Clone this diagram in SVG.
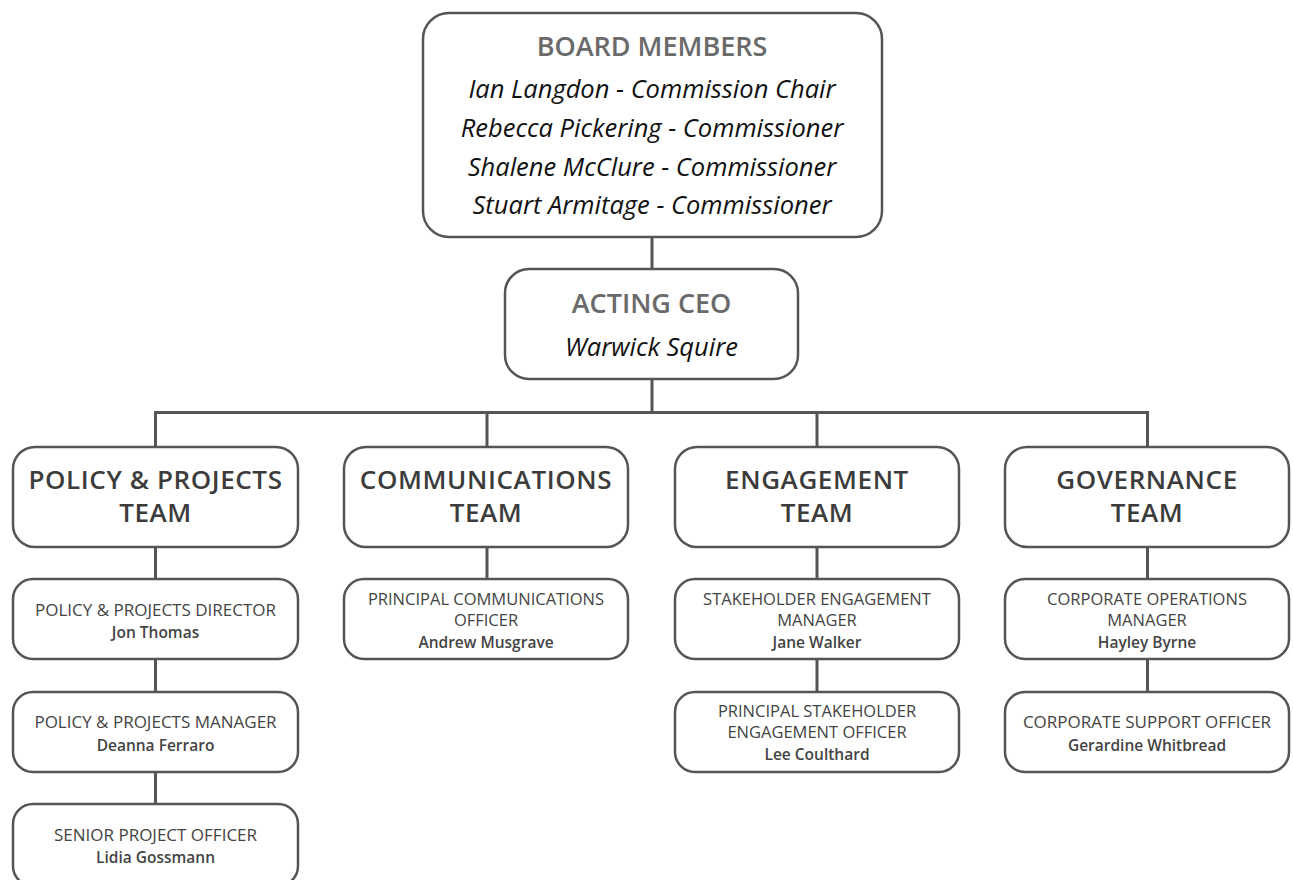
<svg xmlns="http://www.w3.org/2000/svg" width="1293" height="880" viewBox="0 0 1293 880">
<style>
.box{fill:#fff;stroke:#555;stroke-width:2.5}
.con{fill:none;stroke:#555;stroke-width:3}
text{font-family:"Open Sans",Lato,"Liberation Sans",sans-serif;text-anchor:middle}
.h1{font-size:27px;fill:#6a6a6a;font-weight:600}
.it{font-size:25.5px;font-style:italic;fill:#111}
.team{font-size:26px;fill:#3c3c3c;font-weight:600;letter-spacing:0.6px}
.role{font-size:17px;fill:#444}
.role3{font-size:16.5px;fill:#444}
.name{font-size:15.5px;fill:#444;font-weight:600}
</style>
<rect width="1293" height="880" fill="#fff"/>
<g id="connectors">
<line class="con" x1="652" y1="237" x2="652" y2="269"/>
<line class="con" x1="652" y1="379" x2="652" y2="412"/>
<path class="con" d="M155.5 447 V412.5 H1147.5 V447"/>
<line class="con" x1="487" y1="412" x2="487" y2="447"/>
<line class="con" x1="817" y1="412" x2="817" y2="447"/>
<line class="con" x1="155.5" y1="547" x2="155.5" y2="579"/>
<line class="con" x1="155.5" y1="659" x2="155.5" y2="692"/>
<line class="con" x1="155.5" y1="772" x2="155.5" y2="804"/>
<line class="con" x1="487" y1="547" x2="487" y2="579"/>
<line class="con" x1="817" y1="547" x2="817" y2="579"/>
<line class="con" x1="817" y1="659" x2="817" y2="692"/>
<line class="con" x1="1147.5" y1="547" x2="1147.5" y2="579"/>
<line class="con" x1="1147.5" y1="659" x2="1147.5" y2="692"/>
</g>
<g id="board">
<rect class="box" x="423" y="13" width="459" height="224" rx="26"/>
<text class="h1" x="652" y="56">BOARD MEMBERS</text>
<text class="it" x="652" y="98">Ian Langdon - Commission Chair</text>
<text class="it" x="652" y="137">Rebecca Pickering - Commissioner</text>
<text class="it" x="652" y="176">Shalene McClure - Commissioner</text>
<text class="it" x="652" y="214">Stuart Armitage - Commissioner</text>
</g>
<g id="ceo">
<rect class="box" x="505" y="269" width="293" height="110" rx="24"/>
<text class="h1" x="651.5" y="313">ACTING CEO</text>
<text class="it" x="651.5" y="356">Warwick Squire</text>
</g>
<g id="team-policy">
<rect class="box" x="13" y="447" width="285" height="100" rx="22"/>
<text class="team" x="155.5" y="489">POLICY &amp; PROJECTS</text>
<text class="team" x="155.5" y="522">TEAM</text>
</g>
<g id="team-comms">
<rect class="box" x="344" y="447" width="284" height="100" rx="22"/>
<text class="team" x="486" y="489">COMMUNICATIONS</text>
<text class="team" x="486" y="522">TEAM</text>
</g>
<g id="team-engagement">
<rect class="box" x="675" y="447" width="284" height="100" rx="22"/>
<text class="team" x="817" y="489">ENGAGEMENT</text>
<text class="team" x="817" y="522">TEAM</text>
</g>
<g id="team-governance">
<rect class="box" x="1005" y="447" width="284" height="100" rx="22"/>
<text class="team" x="1147" y="489">GOVERNANCE</text>
<text class="team" x="1147" y="522">TEAM</text>
</g>
<g id="pp-director">
<rect class="box" x="13" y="579" width="285" height="80" rx="20"/>
<text class="role" x="155.5" y="616">POLICY &amp; PROJECTS DIRECTOR</text>
<text class="name" x="155.5" y="638">Jon Thomas</text>
</g>
<g id="pp-manager">
<rect class="box" x="13" y="692" width="285" height="80" rx="20"/>
<text class="role" x="155.5" y="728">POLICY &amp; PROJECTS MANAGER</text>
<text class="name" x="155.5" y="751">Deanna Ferraro</text>
</g>
<g id="senior-project-officer">
<rect class="box" x="13" y="804" width="285" height="82" rx="20"/>
<text class="role" x="155.5" y="841">SENIOR PROJECT OFFICER</text>
<text class="name" x="155.5" y="863">Lidia Gossmann</text>
</g>
<g id="principal-comms">
<rect class="box" x="344" y="579" width="284" height="80" rx="20"/>
<text class="role3" x="486" y="605">PRINCIPAL COMMUNICATIONS</text>
<text class="role3" x="486" y="626">OFFICER</text>
<text class="name" x="486" y="648">Andrew Musgrave</text>
</g>
<g id="stakeholder-manager">
<rect class="box" x="675" y="579" width="284" height="80" rx="20"/>
<text class="role3" x="817" y="605">STAKEHOLDER ENGAGEMENT</text>
<text class="role3" x="817" y="626">MANAGER</text>
<text class="name" x="817" y="648">Jane Walker</text>
</g>
<g id="principal-stakeholder">
<rect class="box" x="675" y="692" width="284" height="80" rx="20"/>
<text class="role3" x="817" y="717">PRINCIPAL STAKEHOLDER</text>
<text class="role3" x="817" y="738">ENGAGEMENT OFFICER</text>
<text class="name" x="817" y="760">Lee Coulthard</text>
</g>
<g id="corp-ops-manager">
<rect class="box" x="1005" y="579" width="284" height="80" rx="20"/>
<text class="role3" x="1147" y="605">CORPORATE OPERATIONS</text>
<text class="role3" x="1147" y="626">MANAGER</text>
<text class="name" x="1147" y="648">Hayley Byrne</text>
</g>
<g id="corp-support">
<rect class="box" x="1005" y="692" width="284" height="80" rx="20"/>
<text class="role" x="1147" y="728">CORPORATE SUPPORT OFFICER</text>
<text class="name" x="1147" y="751">Gerardine Whitbread</text>
</g>
</svg>
